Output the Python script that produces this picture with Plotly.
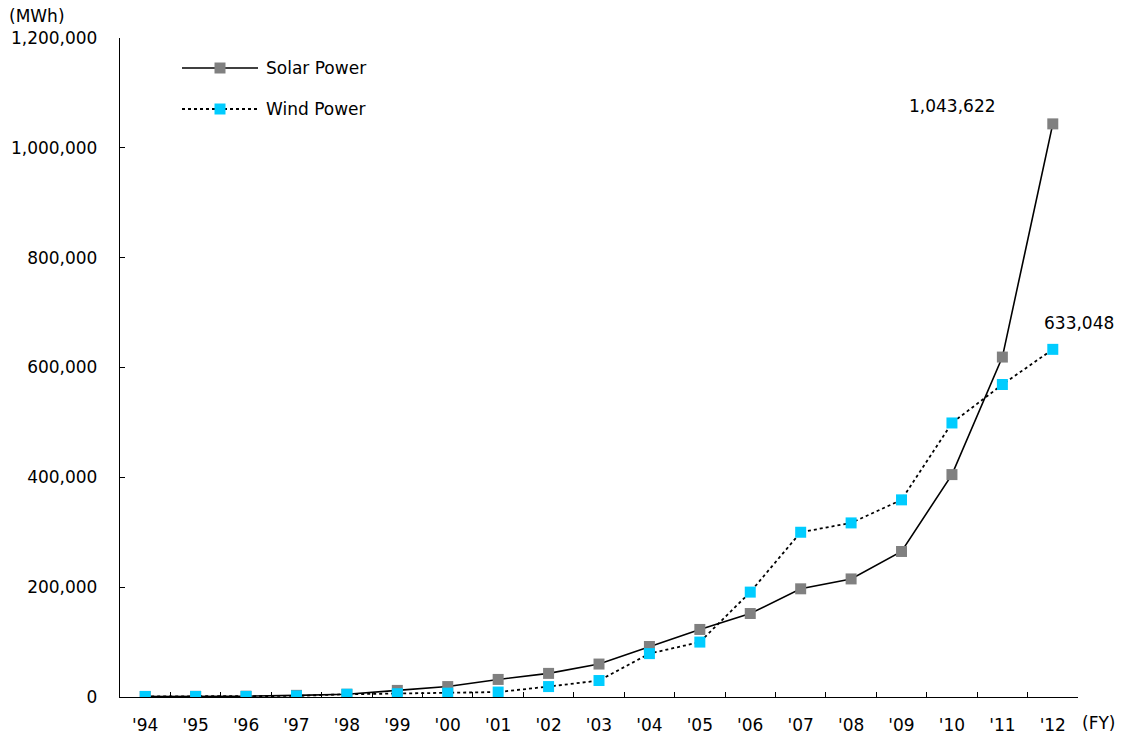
import plotly.graph_objects as go

# Fiscal years and generation (MWh)
years = ["'94", "'95", "'96", "'97", "'98", "'99", "'00", "'01", "'02", "'03",
         "'04", "'05", "'06", "'07", "'08", "'09", "'10", "'11", "'12"]
solar = [1000, 1200, 1500, 3000, 5000, 12000, 19000, 32000, 43000, 60000,
         92000, 123000, 152000, 197000, 215000, 265000, 405000, 619000, 1043622]
wind = [1000, 1000, 1000, 2000, 5000, 6000, 7000, 9000, 19000, 30000,
        79000, 100000, 191000, 300000, 317000, 359000, 499000, 569000, 633048]

FONT = "DejaVu Sans, Liberation Sans, sans-serif"
FS = 17
SOLAR_COLOR = "#808080"
WIND_COLOR = "#00CCFF"

fig = go.Figure()

fig.add_trace(go.Scatter(
    x=years, y=solar, name="Solar Power", mode="lines+markers",
    line=dict(color="black", width=1.6),
    marker=dict(symbol="square", size=11, color=SOLAR_COLOR),
    showlegend=False,
))
fig.add_trace(go.Scatter(
    x=years, y=wind, name="Wind Power", mode="lines+markers",
    line=dict(color="black", width=1.8, dash="dot"),
    marker=dict(symbol="square", size=11, color=WIND_COLOR),
    showlegend=False,
))

# Value labels for the final year
fig.add_annotation(x=years[-1], y=solar[-1], text=f"{solar[-1]:,}",
                   showarrow=False, xshift=-100, yshift=18,
                   font=dict(family=FONT, size=FS, color="black"))
fig.add_annotation(x=years[-1], y=wind[-1], text=f"{wind[-1]:,}",
                   showarrow=False, xshift=26, yshift=26,
                   font=dict(family=FONT, size=FS, color="black"))

# Unit labels
fig.add_annotation(xref="paper", yref="paper", x=-0.118, y=1.0, yshift=22,
                   xanchor="left", yanchor="middle", text="(MWh)", showarrow=False,
                   font=dict(family=FONT, size=FS, color="black"))
fig.add_annotation(xref="paper", yref="paper", x=1.0, y=0, yshift=-26, xshift=2,
                   xanchor="left", yanchor="middle", text="(FY)", showarrow=False,
                   font=dict(family=FONT, size=FS, color="black"))

# Hand-built legend in the upper left
legend_items = [("Solar Power", SOLAR_COLOR, "solid", 68),
                ("Wind Power", WIND_COLOR, "dot", 109)]
for label, color, dash, ypx in legend_items:
    yp = (697 - ypx) / 659
    x0 = (182 - 120) / 958
    x1 = (258 - 120) / 958
    xm = (220 - 120) / 958
    fig.add_shape(type="line", xref="paper", yref="paper", x0=x0, x1=x1, y0=yp, y1=yp,
                  line=dict(color="black", width=1.6 if dash == "solid" else 1.8, dash=dash))
    fig.add_shape(type="rect", xref="paper", yref="paper",
                  x0=xm - 5.5 / 958, x1=xm + 5.5 / 958,
                  y0=yp - 5.5 / 659, y1=yp + 5.5 / 659,
                  fillcolor=color, line=dict(width=0))
    fig.add_annotation(xref="paper", yref="paper", x=(264 - 120) / 958, y=yp,
                       xanchor="left", yanchor="middle", text=label, showarrow=False,
                       font=dict(family=FONT, size=FS, color="black"))

fig.update_layout(
    width=1124, height=740,
    margin=dict(l=120, r=46, t=38, b=43),
    paper_bgcolor="white", plot_bgcolor="white",
    font=dict(family=FONT, size=FS, color="black"),
)
fig.update_xaxes(
    type="category", range=[-0.5, 18.5], automargin=False,
    showline=True, linecolor="black", linewidth=1.3,
    ticks="inside", ticklen=5, tickcolor="black", tickson="boundaries",
    showgrid=False, zeroline=False, ticklabelstandoff=12,
)
fig.update_yaxes(
    range=[0, 1200000], dtick=200000, tickformat=",", automargin=False,
    showline=True, linecolor="black", linewidth=1.3,
    ticks="inside", ticklen=5, tickcolor="black",
    showgrid=False, zeroline=False, ticklabelstandoff=18,
)

fig.write_html("out.html")
